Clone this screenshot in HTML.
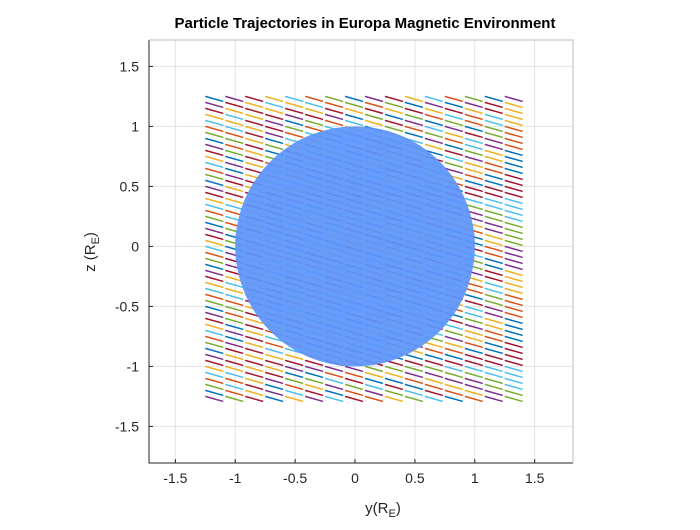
<!DOCTYPE html>
<html><head><meta charset="utf-8"><style>
body{margin:0;background:#fff;width:700px;height:525px;overflow:hidden;font-family:"Liberation Sans",sans-serif}
</style></head><body>
<svg id="c" width="700" height="525" font-family="Liberation Sans, sans-serif">
<rect x="0" y="0" width="700" height="525" fill="#fff"/>
<g id="grid"></g>
<g id="traj"></g>
<g id="body"></g>
<g id="axes"></g>
<text x="365" y="28" text-anchor="middle" font-size="15" font-weight="bold" fill="#000">Particle Trajectories in Europa Magnetic Environment</text>
<text x="383" y="513" text-anchor="middle" font-size="15" fill="#262626">y(R<tspan font-size="11" dy="4">E</tspan><tspan dy="-4">)</tspan></text>
<text transform="translate(95,252) rotate(-90)" text-anchor="middle" font-size="15" fill="#262626">z (R<tspan font-size="11" dy="4">E</tspan><tspan dy="-4">)</tspan></text>
</svg>
<script>
const xTicks=[-1.5,-1,-0.5,0,0.5,1,1.5];
const yTicks=[-1.5,-1,-0.5,0,0.5,1,1.5];
const xDomain=[-1.72,1.82];
const yDomain=[-1.805,1.72];
const startY=[];for(let k=0;k<16;k++)startY.push(-1.25+k/6);
const startZ=[];for(let r=0;r<51;r++)startZ.push(1.25-r*0.05);
const stepY=0.15, stepZ=-0.042;
const bodyCenter=[0,0], bodyRadius=1;
const colors=["#0072BD","#D95319","#EDB120","#7E2F8E","#77AC30","#4DBEEE","#A2142F"];
const L=149,R=573,T=40,B=463;
const sx=v=>L+(v-xDomain[0])/(xDomain[1]-xDomain[0])*(R-L);
const sy=v=>B-(v-yDomain[0])/(yDomain[1]-yDomain[0])*(B-T);
const NS="http://www.w3.org/2000/svg";
function mk(t,a,p){const e=document.createElementNS(NS,t);for(const k in a)e.setAttribute(k,a[k]);p.appendChild(e);return e;}
const g=document.getElementById('grid'),ax=document.getElementById('axes'),tr=document.getElementById('traj'),bd=document.getElementById('body');
xTicks.forEach(v=>{const l=mk('line',{x1:sx(v),x2:sx(v),y1:T,y2:B,stroke:'#e3e3e3','stroke-width':1},g);

const t=mk('text',{x:sx(v),y:B+20,'text-anchor':'middle','font-size':14,fill:'#262626'},ax);t.textContent=v;

mk('line',{x1:sx(v),x2:sx(v),y1:B,y2:B-4,stroke:'#262626'},ax);});
yTicks.forEach(v=>{const l=mk('line',{x1:L,x2:R,y1:sy(v),y2:sy(v),stroke:'#e3e3e3','stroke-width':1},g);

const t=mk('text',{x:L-10,y:sy(v)+5,'text-anchor':'end','font-size':14,fill:'#262626'},ax);t.textContent=v;

mk('line',{x1:L,x2:L+4,y1:sy(v),y2:sy(v),stroke:'#262626'},ax);});
startZ.forEach((z,r)=>{startY.forEach((y,c)=>{
const h=((r*31+c*17+r*c*7+((r*c)>>2))%7+7)%7;
const ln=mk('line',{x1:sx(y),y1:sy(z),x2:sx(y+stepY),y2:sy(z+stepZ),stroke:colors[h],'stroke-width':1.5},tr);
});});
const circ=mk('ellipse',{cx:sx(bodyCenter[0]),cy:sy(bodyCenter[1]),rx:sx(bodyRadius)-sx(0),ry:sy(0)-sy(bodyRadius),fill:'#5c95fb','fill-opacity':0.93},bd);

const fr=mk('path',{d:`M${L},${T}V${B}H${R}`,fill:'none',stroke:'#262626','stroke-width':1},ax);

const fr2=mk('path',{d:`M${L},${T}H${R}V${B}`,fill:'none',stroke:'#bbb','stroke-width':1},ax);

</script>
</body></html>
